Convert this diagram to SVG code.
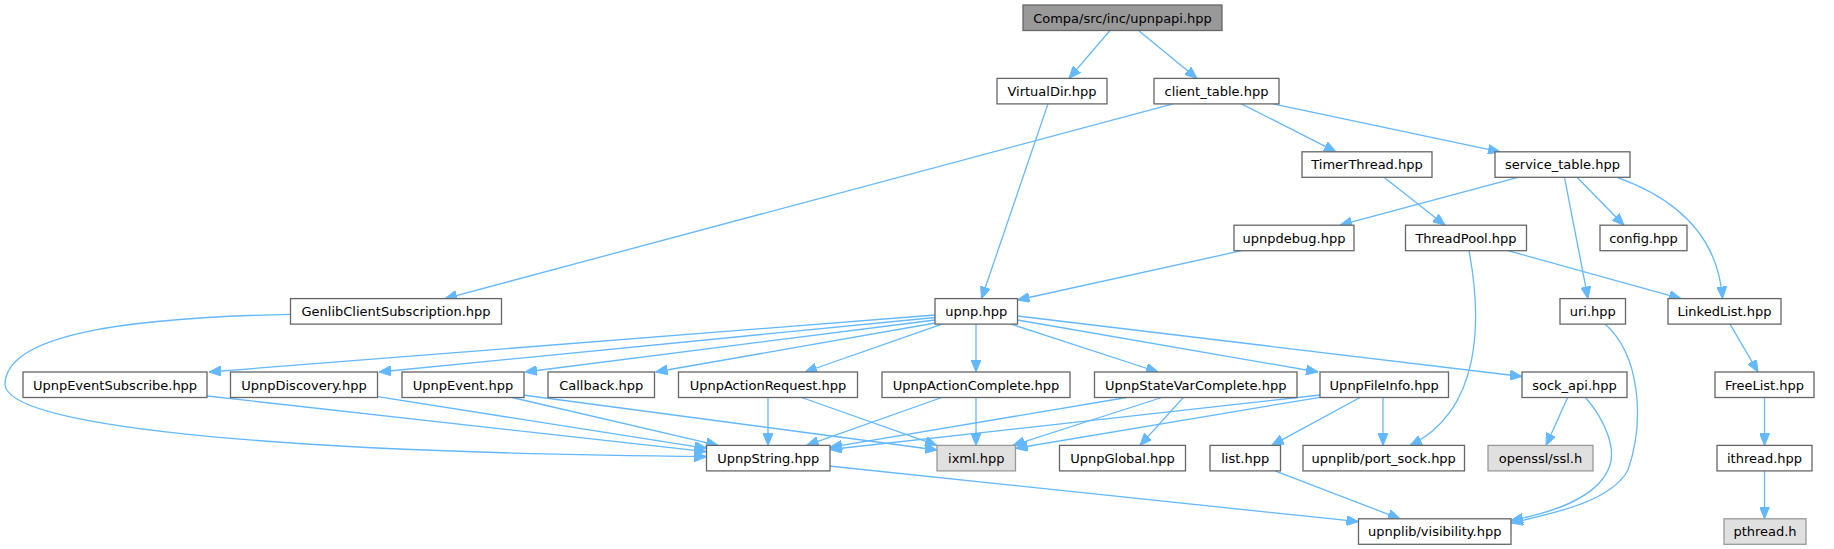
<svg xmlns="http://www.w3.org/2000/svg" width="1834" height="549" viewBox="0 0 1834 549">
<style>
.n rect{fill:#ffffff;stroke:#666666;stroke-width:1.3}
.n.root rect{fill:#999999;stroke:#666666}
.n.ext rect{fill:#e0e0e0;stroke:#999999}
.n text{font-family:"DejaVu Sans",sans-serif;font-size:13px;fill:#000000;text-anchor:middle}
.e path{fill:none;stroke:#63b8ff;stroke-width:1.3;marker-end:url(#ah)}
</style>
<defs>
<marker id="ah" viewBox="0 0 12 10" refX="12" refY="5" markerWidth="12" markerHeight="10" markerUnits="userSpaceOnUse" orient="auto">
<path d="M0,0 L12,5 L0,10 z" fill="#63b8ff" stroke="#63b8ff" stroke-width="1"/>
</marker>
</defs>
<rect x="0" y="0" width="1834" height="549" fill="#ffffff"/>
<g id="edges" class="e">
<path d="M1110,30.5 L1069,78.4"/>
<path d="M1138.5,30.5 L1197,78.4"/>
<path d="M1048,103.9 L981.5,298.6"/>
<path d="M1173,103.9 L445,298.6"/>
<path d="M1241.5,103.9 L1336,151.8"/>
<path d="M1273,103.9 L1500,151.8"/>
<path d="M1384,177.3 L1445,225.2"/>
<path d="M1518,177.3 L1340,225.2"/>
<path d="M1564.5,177.3 L1588,298.6"/>
<path d="M1577,177.3 L1624,225.2"/>
<path d="M1617,177.3 C1675,198 1718,235 1722.5,298.6"/>
<path d="M1241.5,250.7 L1017.5,300"/>
<path d="M1508,250.7 L1681,298.6"/>
<path d="M1469,250.7 C1482,320 1482,410 1410,445.4"/>
<path d="M290.5,314.3 C120,318 8,335 5,383 C2,425 250,452 706.5,456.7"/>
<path d="M1605,324.1 C1640,355 1645,420 1628,470 C1612,500 1560,512 1511,523"/>
<path d="M1730,324.1 L1758,372"/>
<path d="M1764.5,397.5 L1764.5,445.4"/>
<path d="M1764.5,470.9 L1764.5,518.8"/>
<path d="M935,315 L209,372"/>
<path d="M935,317.5 L379,372"/>
<path d="M935,320 L525,372"/>
<path d="M938,322.5 L655.5,372"/>
<path d="M942,324.1 L805,372"/>
<path d="M976,324.1 L976,372"/>
<path d="M1011,324.1 L1158,372"/>
<path d="M1017.5,320 L1318,372"/>
<path d="M1017.5,316 L1522,376.5"/>
<path d="M207,396 L706.5,451.7"/>
<path d="M377.6,396.7 L706.5,448.3"/>
<path d="M512,397.5 L718,445.4"/>
<path d="M523,395 L937,450"/>
<path d="M768,397.5 L768,445.4"/>
<path d="M801.7,397.5 L937,445.4"/>
<path d="M941.7,397.5 L806.7,445.4"/>
<path d="M976,397.5 L976,445.4"/>
<path d="M1126.7,397.5 L830,447.3"/>
<path d="M1161.7,397.5 L1013,445.4"/>
<path d="M1183.3,397.5 L1140,445.4"/>
<path d="M1320,395 L830,449.5"/>
<path d="M1320,397.3 L1015.5,448.3"/>
<path d="M1360,397.5 L1271.7,445.4"/>
<path d="M1383,397.5 L1383,445.4"/>
<path d="M1567.7,397.5 L1546,445.4"/>
<path d="M1585.5,397.5 C1605,420 1618,450 1608,470 C1595,498 1555,512 1511,520.5"/>
<path d="M1275,470.9 L1400,518.8"/>
<path d="M829,466 L1358.5,521.7"/>
</g>
<g id="n0" class="n root"><rect x="1023" y="5" width="199" height="25.5"/><text x="1122.5" y="22.5">Compa/src/inc/upnpapi.hpp</text></g>
<g id="n1" class="n"><rect x="997" y="78.4" width="110" height="25.5"/><text x="1052" y="95.9">VirtualDir.hpp</text></g>
<g id="n2" class="n"><rect x="1154" y="78.4" width="125" height="25.5"/><text x="1216.5" y="95.9">client_table.hpp</text></g>
<g id="n3" class="n"><rect x="1302" y="151.8" width="130" height="25.5"/><text x="1367" y="169.3">TimerThread.hpp</text></g>
<g id="n4" class="n"><rect x="1495" y="151.8" width="135" height="25.5"/><text x="1562.5" y="169.3">service_table.hpp</text></g>
<g id="n5" class="n"><rect x="1234" y="225.2" width="120" height="25.5"/><text x="1294" y="242.7">upnpdebug.hpp</text></g>
<g id="n6" class="n"><rect x="1405.5" y="225.2" width="121" height="25.5"/><text x="1466" y="242.7">ThreadPool.hpp</text></g>
<g id="n7" class="n"><rect x="1600" y="225.2" width="87" height="25.5"/><text x="1643.5" y="242.7">config.hpp</text></g>
<g id="n8" class="n"><rect x="290.5" y="298.6" width="211" height="25.5"/><text x="396" y="316.1">GenlibClientSubscription.hpp</text></g>
<g id="n9" class="n"><rect x="935" y="298.6" width="82.5" height="25.5"/><text x="976.25" y="316.1">upnp.hpp</text></g>
<g id="n10" class="n"><rect x="1560" y="298.6" width="65.5" height="25.5"/><text x="1592.75" y="316.1">uri.hpp</text></g>
<g id="n11" class="n"><rect x="1668" y="298.6" width="113" height="25.5"/><text x="1724.5" y="316.1">LinkedList.hpp</text></g>
<g id="n12" class="n"><rect x="23" y="372" width="184" height="25.5"/><text x="115" y="389.5">UpnpEventSubscribe.hpp</text></g>
<g id="n13" class="n"><rect x="230.5" y="372" width="147" height="25.5"/><text x="304" y="389.5">UpnpDiscovery.hpp</text></g>
<g id="n14" class="n"><rect x="402" y="372" width="122" height="25.5"/><text x="463" y="389.5">UpnpEvent.hpp</text></g>
<g id="n15" class="n"><rect x="548" y="372" width="106.5" height="25.5"/><text x="601.25" y="389.5">Callback.hpp</text></g>
<g id="n16" class="n"><rect x="678.5" y="372" width="179" height="25.5"/><text x="768" y="389.5">UpnpActionRequest.hpp</text></g>
<g id="n17" class="n"><rect x="882" y="372" width="188" height="25.5"/><text x="976" y="389.5">UpnpActionComplete.hpp</text></g>
<g id="n18" class="n"><rect x="1094.5" y="372" width="202.5" height="25.5"/><text x="1195.75" y="389.5">UpnpStateVarComplete.hpp</text></g>
<g id="n19" class="n"><rect x="1320" y="372" width="128.5" height="25.5"/><text x="1384.25" y="389.5">UpnpFileInfo.hpp</text></g>
<g id="n20" class="n"><rect x="1522" y="372" width="105" height="25.5"/><text x="1574.5" y="389.5">sock_api.hpp</text></g>
<g id="n21" class="n"><rect x="1715" y="372" width="99" height="25.5"/><text x="1764.5" y="389.5">FreeList.hpp</text></g>
<g id="n22" class="n"><rect x="706.5" y="445.4" width="123.5" height="25.5"/><text x="768.25" y="462.9">UpnpString.hpp</text></g>
<g id="n23" class="n ext"><rect x="937" y="445.4" width="78.5" height="25.5"/><text x="976.25" y="462.9">ixml.hpp</text></g>
<g id="n24" class="n"><rect x="1059.5" y="445.4" width="126" height="25.5"/><text x="1122.5" y="462.9">UpnpGlobal.hpp</text></g>
<g id="n25" class="n"><rect x="1210" y="445.4" width="70.5" height="25.5"/><text x="1245.25" y="462.9">list.hpp</text></g>
<g id="n26" class="n"><rect x="1303" y="445.4" width="161.5" height="25.5"/><text x="1383.75" y="462.9">upnplib/port_sock.hpp</text></g>
<g id="n27" class="n ext"><rect x="1488" y="445.4" width="105" height="25.5"/><text x="1540.5" y="462.9">openssl/ssl.h</text></g>
<g id="n28" class="n"><rect x="1717" y="445.4" width="95" height="25.5"/><text x="1764.5" y="462.9">ithread.hpp</text></g>
<g id="n29" class="n"><rect x="1358.5" y="518.8" width="152.5" height="25.5"/><text x="1434.75" y="536.3">upnplib/visibility.hpp</text></g>
<g id="n30" class="n ext"><rect x="1724" y="518.8" width="82" height="25.5"/><text x="1765" y="536.3">pthread.h</text></g>
</svg>
